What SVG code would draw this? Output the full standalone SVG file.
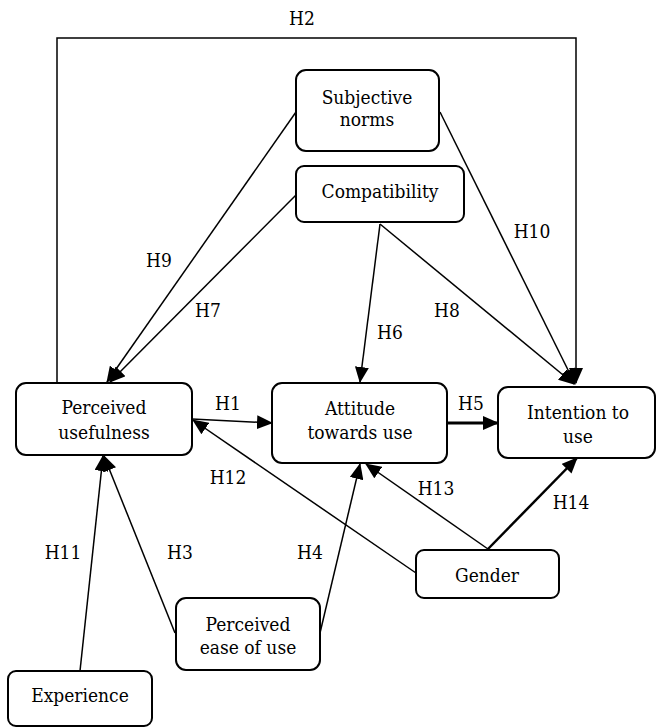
<svg xmlns="http://www.w3.org/2000/svg" width="657" height="727" viewBox="0 0 657 727">
<style>
.box{fill:#fff;stroke:#000;stroke-width:2}
.c{fill:none;stroke:#000;stroke-width:1.5}
.k{fill:none;stroke:#000;stroke-width:3}
.tx{font-family:'DejaVu Serif Condensed','DejaVu Serif',serif;font-stretch:condensed;font-size:19px;text-anchor:middle;fill:#000}
</style>
<defs>
<marker id="ah" markerUnits="userSpaceOnUse" markerWidth="16" markerHeight="14" refX="15" refY="7" orient="auto">
<path d="M0,0 L16,7 L0,14 Z" fill="#000"/>
</marker>
</defs>
<rect width="657" height="727" fill="#fff"/>
<g id="connectors">
<polyline class="c" points="57,383 57,38 576,38 576,383" marker-end="url(#ah)"/>
<line class="c" x1="296" y1="112" x2="107" y2="382" marker-end="url(#ah)"/>
<line class="c" x1="296" y1="195" x2="110" y2="382" marker-end="url(#ah)"/>
<line class="c" x1="380" y1="224" x2="360" y2="382" marker-end="url(#ah)"/>
<line class="c" x1="380" y1="224" x2="574" y2="384" marker-end="url(#ah)"/>
<line class="c" x1="440" y1="112" x2="575" y2="384" marker-end="url(#ah)"/>
<line class="c" x1="192" y1="419" x2="272" y2="423" marker-end="url(#ah)"/>
<line class="k" x1="447" y1="423" x2="498" y2="423" marker-end="url(#ah)"/>
<line class="c" x1="416" y1="573" x2="193" y2="420" marker-end="url(#ah)"/>
<line class="c" x1="488" y1="549" x2="366" y2="464" marker-end="url(#ah)"/>
<line class="c" x1="488" y1="549" x2="577" y2="458" marker-end="url(#ah)" style="stroke-width:2.5"/>
<line class="c" x1="320" y1="633" x2="360" y2="464" marker-end="url(#ah)"/>
<line class="c" x1="175" y1="633" x2="104" y2="456" marker-end="url(#ah)"/>
<line class="c" x1="80" y1="671" x2="103" y2="456" marker-end="url(#ah)"/>
</g>
<g class="tx">
<g id="labels">
<text x="302" y="25">H2</text>
<text x="532" y="238">H10</text>
<text x="159" y="267">H9</text>
<text x="208" y="317">H7</text>
<text x="447" y="317">H8</text>
<text x="390" y="339">H6</text>
<text x="228" y="410">H1</text>
<text x="471" y="410">H5</text>
<text x="228" y="484">H12</text>
<text x="436" y="495">H13</text>
<text x="571" y="509">H14</text>
<text x="63" y="559">H11</text>
<text x="180" y="559">H3</text>
<text x="310" y="559">H4</text>
</g>
<g id="subjective-norms">
<rect class="box" x="296" y="70" width="143" height="81" rx="10"/>
<text x="367" y="104">Subjective</text>
<text x="367" y="126">norms</text>
</g>
<g id="compatibility">
<rect class="box" x="296" y="166" width="168" height="56" rx="8"/>
<text x="380" y="198">Compatibility</text>
</g>
<g id="perceived-usefulness">
<rect class="box" x="16" y="383" width="176" height="72" rx="10"/>
<text x="104" y="414">Perceived</text>
<text x="104" y="439">usefulness</text>
</g>
<g id="attitude">
<rect class="box" x="272" y="383" width="175" height="80" rx="10"/>
<text x="360" y="415">Attitude</text>
<text x="360" y="439">towards use</text>
</g>
<g id="intention">
<rect class="box" x="498" y="387" width="157" height="71" rx="10"/>
<text x="578" y="419">Intention to</text>
<text x="578" y="443">use</text>
</g>
<g id="gender">
<rect class="box" x="416" y="550" width="143" height="48" rx="8"/>
<text x="487" y="582">Gender</text>
</g>
<g id="perceived-ease-of-use">
<rect class="box" x="176" y="598" width="144" height="72" rx="10"/>
<text x="248" y="631">Perceived</text>
<text x="248" y="654">ease of use</text>
</g>
<g id="experience">
<rect class="box" x="8" y="671" width="144" height="55" rx="8"/>
<text x="80" y="702">Experience</text>
</g>
</g>
</svg>
